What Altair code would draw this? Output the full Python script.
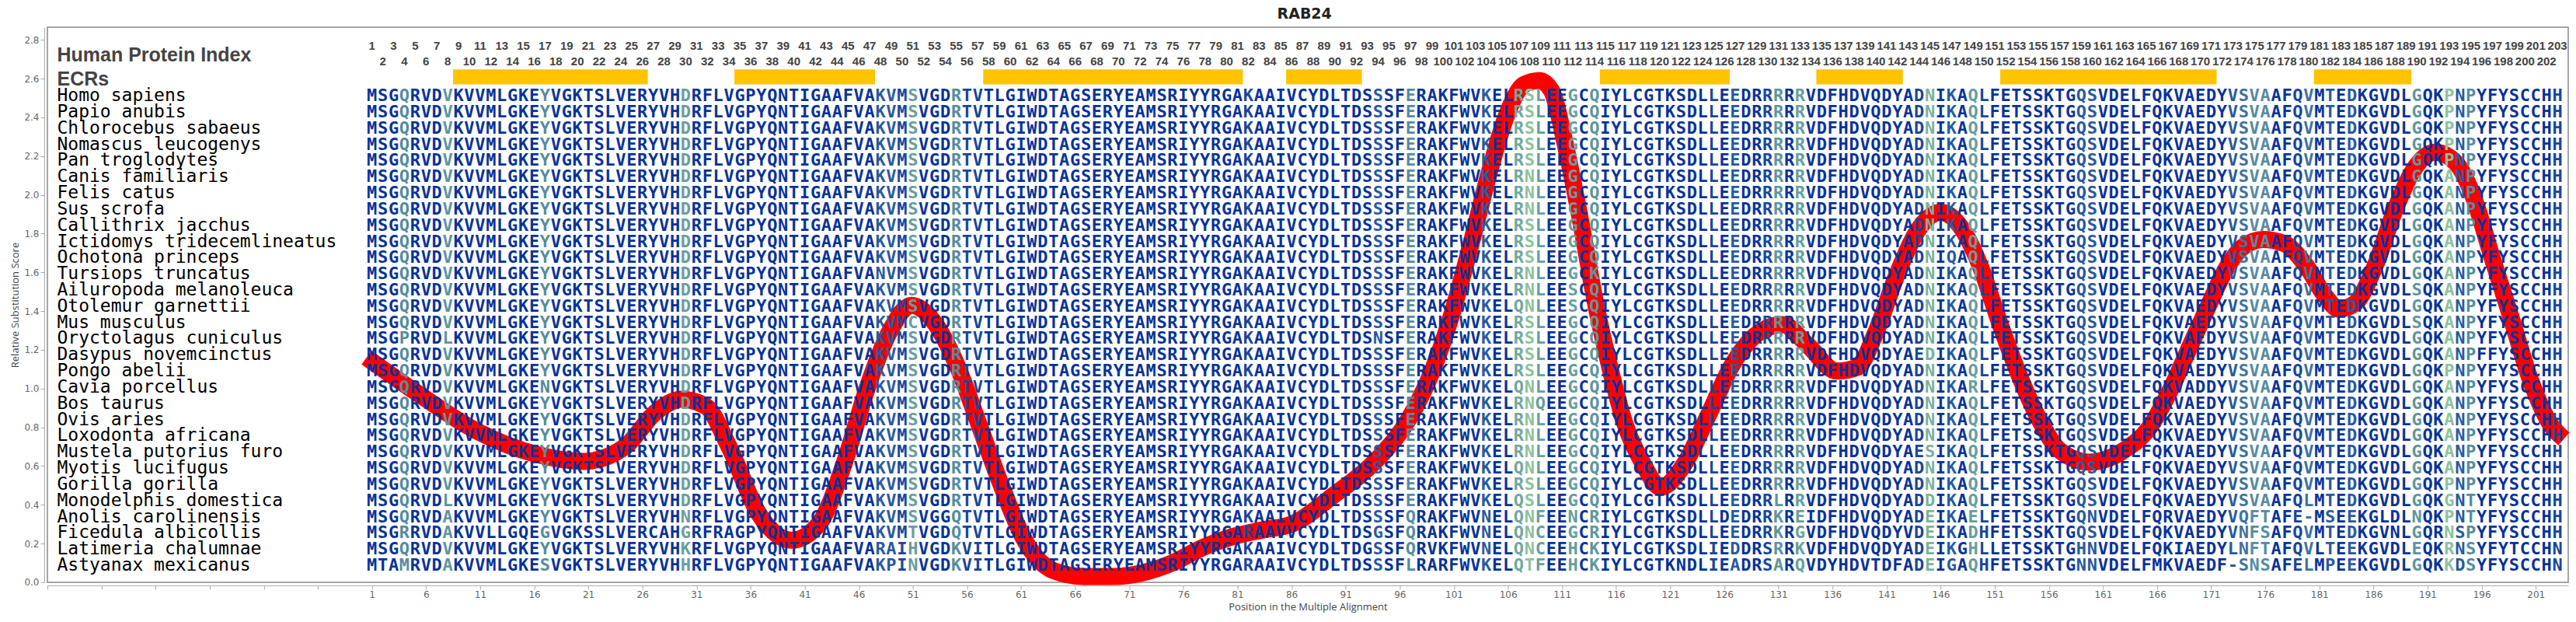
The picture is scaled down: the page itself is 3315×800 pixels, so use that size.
import altair as alt
import pandas as pd

TITLE = "RAB24"
Y_TITLE = "Relative Substitution Score"
X_TITLE = "Position in the Multiple Alignment"
HEADER_LABELS = ["Human Protein Index", "ECRs"]

SPECIES = [
    "Homo sapiens", "Papio anubis", "Chlorocebus sabaeus", "Nomascus leucogenys",
    "Pan troglodytes", "Canis familiaris", "Felis catus", "Sus scrofa",
    "Callithrix jacchus", "Ictidomys tridecemlineatus", "Ochotona princeps",
    "Tursiops truncatus", "Ailuropoda melanoleuca", "Otolemur garnettii",
    "Mus musculus", "Oryctolagus cuniculus", "Dasypus novemcinctus", "Pongo abelii",
    "Cavia porcellus", "Bos taurus", "Ovis aries", "Loxodonta africana",
    "Mustela putorius furo", "Myotis lucifugus", "Gorilla gorilla",
    "Monodelphis domestica", "Anolis carolinensis", "Ficedula albicollis",
    "Latimeria chalumnae", "Astyanax mexicanus",
]

HUMAN = ("MSGQRVDVKVVMLGKEYVGKTSLVERYVHDRFLVGPYQNTIGAAFVAKVMSVGDRTVTLG"
         "IWDTAGSERYEAMSRIYYRGAKAAIVCYDLTDSSSFERAKFWVKELRSLEEGCQIYLCGT"
         "KSDLLEEDRRRRRVDFHDVQDYADNIKAQLFETSSKTGQSVDELFQKVAEDYVSVAAFQV"
         "MTEDKGVDLGQKPNPYFYSCCHH")

# substitutions relative to the human sequence (position + residue)
SUBS = [
    "", "", "", "", "",
    "108N 193A", "108N 193A", "108N 193A", "193A", "193A",
    "147Q 193A", "48N 108N 114K 193A", "108N 112S 190S 193A",
    "107Q 108N 112S 193A", "51C 190S 193A", "4P 8L 94N 193A",
    "144E 145D 193A 196F", "",
    "17N 107Q 108N 149R 170D 193A", "108N 109Q 193A", "108N 193A", "108N 193A",
    "108N 144E 145S 193A", "107Q 108N 193A", "",
    "8L 107Q 131L 145D 180L 193G 195T",
    "8A 30N 54G 55Q 97Q 104N 107Q 108N 109F 112N 114R 126D 131K 133E 134I "
    "145E 149E 160N 167R 174Q 175F 176T 179E 180- 182S 184E 187L 190N 195T",
    "4R 8A 12L 15Q 17G 21S 27C 28A 30G 33R 34A 51T 55Q 82R 85V 94G 97Q 104N "
    "107Q 108N 109C 114R 131K 133G 143V 145E 149D 150H 174N 175F 176S 188N "
    "192R 193N 194S",
    "30K 48R 49A 50I 51H 55K 56V 57I 93G 97Q 99V 104N 107Q 108N 109C 112H 114K "
    "125I 127D 130S 133K 145E 148G 149H 151L 159H 160N 168I 173L 174N 175F 176T "
    "181L 184E 190E 193R 195S 199T 203N",
    "2T 3A 4M 8A 17S 30H 49P 50I 51N 55K 56V 57I 82R 97L 100R 107Q 108T 109F "
    "112H 114K 122N 125I 127A 130S 131A 133Q 136Y 140T 142F 145E 147G 150H 159N "
    "160N 166M 172F 173- 175N 176S 179E 180L 182P 184E 193K 194D 195S 203N",
]

ECR_START = [9, 35, 58, 86, 115, 135, 152, 181]
ECR_END = [26, 47, 81, 92, 126, 142, 171, 189]

CURVE_POS = [0.5, 5.2, 10.7, 16.2, 20.6, 24.4, 27.2, 29.6, 31.9, 34.0, 36.8, 39.8,
             42.3, 44.8, 46.7, 48.9, 50.85, 53.0, 55.0, 57.2, 59.1, 61.3, 64.0,
             66.8, 69.5, 72.3, 75.0, 77.8, 80.5, 83.3, 86.0, 89.9, 94.0, 96.8,
             99.0, 100.9, 102.6, 104.2, 105.8, 107.5, 108.9, 110.0, 111.3, 112.7,
             114.1, 115.5, 116.8, 118.5, 120.1, 122.3, 124.5, 126.7, 129.5, 131.4,
             133.6, 136.4, 138.3, 140.0, 141.9, 143.8, 146.0, 147.9, 149.6, 151.5,
             153.1, 155.1, 157.0, 159.7, 162.9, 165.3, 167.2, 168.9, 170.6, 172.5,
             173.9, 175.8, 177.7, 179.7, 181.5, 182.8, 184.3, 186.2, 187.9, 189.6,
             191.7, 193.7, 195.1, 197.0, 198.7, 200.6, 202.3, 203.6]
CURVE_VAL = [1.16, 0.976, 0.78, 0.66, 0.624, 0.70, 0.877, 0.945, 0.907, 0.70, 0.35,
             0.217, 0.30, 0.64, 0.99, 1.30, 1.43, 1.34, 1.13, 0.80, 0.51, 0.22,
             0.06, 0.03, 0.03, 0.05, 0.10, 0.18, 0.235, 0.27, 0.30, 0.45, 0.64,
             0.84, 1.09, 1.40, 1.75, 2.10, 2.40, 2.57, 2.59, 2.54, 2.26, 1.87,
             1.44, 1.09, 0.82, 0.61, 0.49, 0.61, 0.86, 1.12, 1.30, 1.33, 1.23,
             1.09, 1.11, 1.29, 1.58, 1.81, 1.91, 1.83, 1.64, 1.33, 1.09, 0.84,
             0.68, 0.62, 0.68, 0.80, 0.99, 1.20, 1.41, 1.63, 1.73, 1.77, 1.75,
             1.64, 1.48, 1.41, 1.44, 1.64, 1.91, 2.12, 2.22, 2.16, 2.01, 1.67,
             1.37, 1.03, 0.82, 0.74]

assert len(HUMAN) == 203
assert len(SPECIES) == len(SUBS)
assert len(CURVE_POS) == len(CURVE_VAL)

# ---------------- derived tables ----------------
def apply_subs(seq, subs):
    s = list(seq)
    for tok in subs.split():
        s[int(tok[:-1]) - 1] = tok[-1]
    return "".join(s)

SEQS = [apply_subs(HUMAN, s) for s in SUBS]
N = len(HUMAN)

ROW_TOP, ROW_STEP = 2.512, 0.0836

# column conservation -> colour
anchors = [(2, (8, 51, 153)), (4, (40, 90, 160)), (6, (85, 140, 160)), (12, (140, 195, 155))]


def ramp(v):
    if v <= anchors[0][0]:
        c = anchors[0][1]
    elif v >= anchors[-1][0]:
        c = anchors[-1][1]
    else:
        for (a, ca), (b, cb) in zip(anchors, anchors[1:]):
            if a <= v <= b:
                t = (v - a) / (b - a)
                c = tuple(ca[k] + (cb[k] - ca[k]) * t for k in range(3))
                break
    return "#%02x%02x%02x" % tuple(int(round(x)) for x in c)


col_colors = []
for j in range(N):
    column = [s[j] for s in SEQS]
    counts = pd.Series(column).value_counts()
    nc = len(column) - counts.iloc[0]
    d = len(counts)
    col_colors.append(ramp(nc + (d - 1)))

res_rows = []
for i, s in enumerate(SEQS):
    for j, ch in enumerate(s):
        res_rows.append({"x": j + 1, "y": ROW_TOP - i * ROW_STEP, "t": ch, "c": col_colors[j]})
res_df = pd.DataFrame(res_rows)

sp_df = pd.DataFrame({"t": SPECIES,
                      "y": [ROW_TOP - i * ROW_STEP for i in range(len(SPECIES))]})

idx_df = pd.DataFrame({"x": list(range(1, N + 1)),
                       "t": [str(k) for k in range(1, N + 1)],
                       "y": [2.769 if k % 2 else 2.687 for k in range(1, N + 1)]})

ecr_df = pd.DataFrame({"x": [s - 0.5 for s in ECR_START],
                       "x2": [e + 0.5 for e in ECR_END]})

curve_df = pd.DataFrame({"x": CURVE_POS, "y": CURVE_VAL})

# ---------------- scales / axes ----------------
xs = alt.Scale(domain=[-29, 204], nice=False, zero=False)
ys = alt.Scale(domain=[0, 2.865], nice=False, zero=False)

x_axis = alt.Axis(values=list(range(-29, 204, 5)),
                  labelExpr="datum.value >= 1 ? datum.label : ''",
                  title=X_TITLE, grid=False, offset=4)
y_axis = alt.Axis(values=[round(v * 0.1, 1) for v in range(0, 29)], format=".1f",
                  title=Y_TITLE, grid=False, offset=4)


def X(field="x"):
    return alt.X(f"{field}:Q", scale=xs, axis=x_axis)


def Y(field="y"):
    return alt.Y(f"{field}:Q", scale=ys, axis=y_axis)


ecr = alt.Chart(ecr_df).mark_rect(color="#FFC300").encode(
    x=X(), x2="x2:Q", y=alt.datum(2.57), y2=alt.datum(2.648))

curve = alt.Chart(curve_df).mark_line(
    color="#FF0000", strokeWidth=22, interpolate="monotone", strokeCap="butt"
).encode(x=X(), y=Y())

residues = alt.Chart(res_df).mark_text(
    font="DejaVu Sans Mono", fontWeight="bold", fontSize=22,
    align="center", baseline="middle"
).encode(x=X(), y=Y(), text="t:N", color=alt.Color("c:N", scale=None))

species = alt.Chart(sp_df).mark_text(
    font="DejaVu Sans Mono", fontSize=23, align="left", baseline="middle",
    color="#000000"
).encode(x=alt.datum(-28.1), y=Y(), text="t:N")

index_nums = alt.Chart(idx_df).mark_text(
    font="Liberation Sans", fontWeight="bold", fontSize=15, align="center",
    baseline="middle", color="#444444"
).encode(x=X(), y=Y(), text="t:N")

hdr1 = alt.Chart(pd.DataFrame({"t": [HEADER_LABELS[0]]})).mark_text(
    font="Liberation Sans", fontWeight="bold", fontSize=25, align="left",
    baseline="middle", color="#444444"
).encode(x=alt.datum(-28.1), y=alt.datum(2.72), text="t:N")

hdr2 = alt.Chart(pd.DataFrame({"t": [HEADER_LABELS[1]]})).mark_text(
    font="Liberation Sans", fontWeight="bold", fontSize=25, align="left",
    baseline="middle", color="#444444"
).encode(x=alt.datum(-28.1), y=alt.datum(2.595), text="t:N")

chart = alt.layer(ecr, curve, residues, species, index_nums, hdr1, hdr2).properties(
    width=3245, height=714,
    title=alt.TitleParams(TITLE, font="DejaVu Sans", fontSize=19, fontWeight="bold",
                          color="#222222", anchor="middle", frame="bounds", offset=7),
    autosize=alt.AutoSizeParams(type="none"),
    padding={"left": 53, "top": 27, "right": 2, "bottom": 40},
).configure_view(
    stroke="#888888", strokeWidth=1.5
).configure_axis(
    domainColor="#aaaaaa", tickColor="#aaaaaa", labelColor="#666666",
    labelFont="DejaVu Sans", labelFontSize=12, titleFont="Open Sans",
    titleFontSize=13, titleFontWeight="normal", titleColor="#444444", tickSize=5,
)

chart.save("out.html", embed_options={"renderer": "svg", "actions": False})
